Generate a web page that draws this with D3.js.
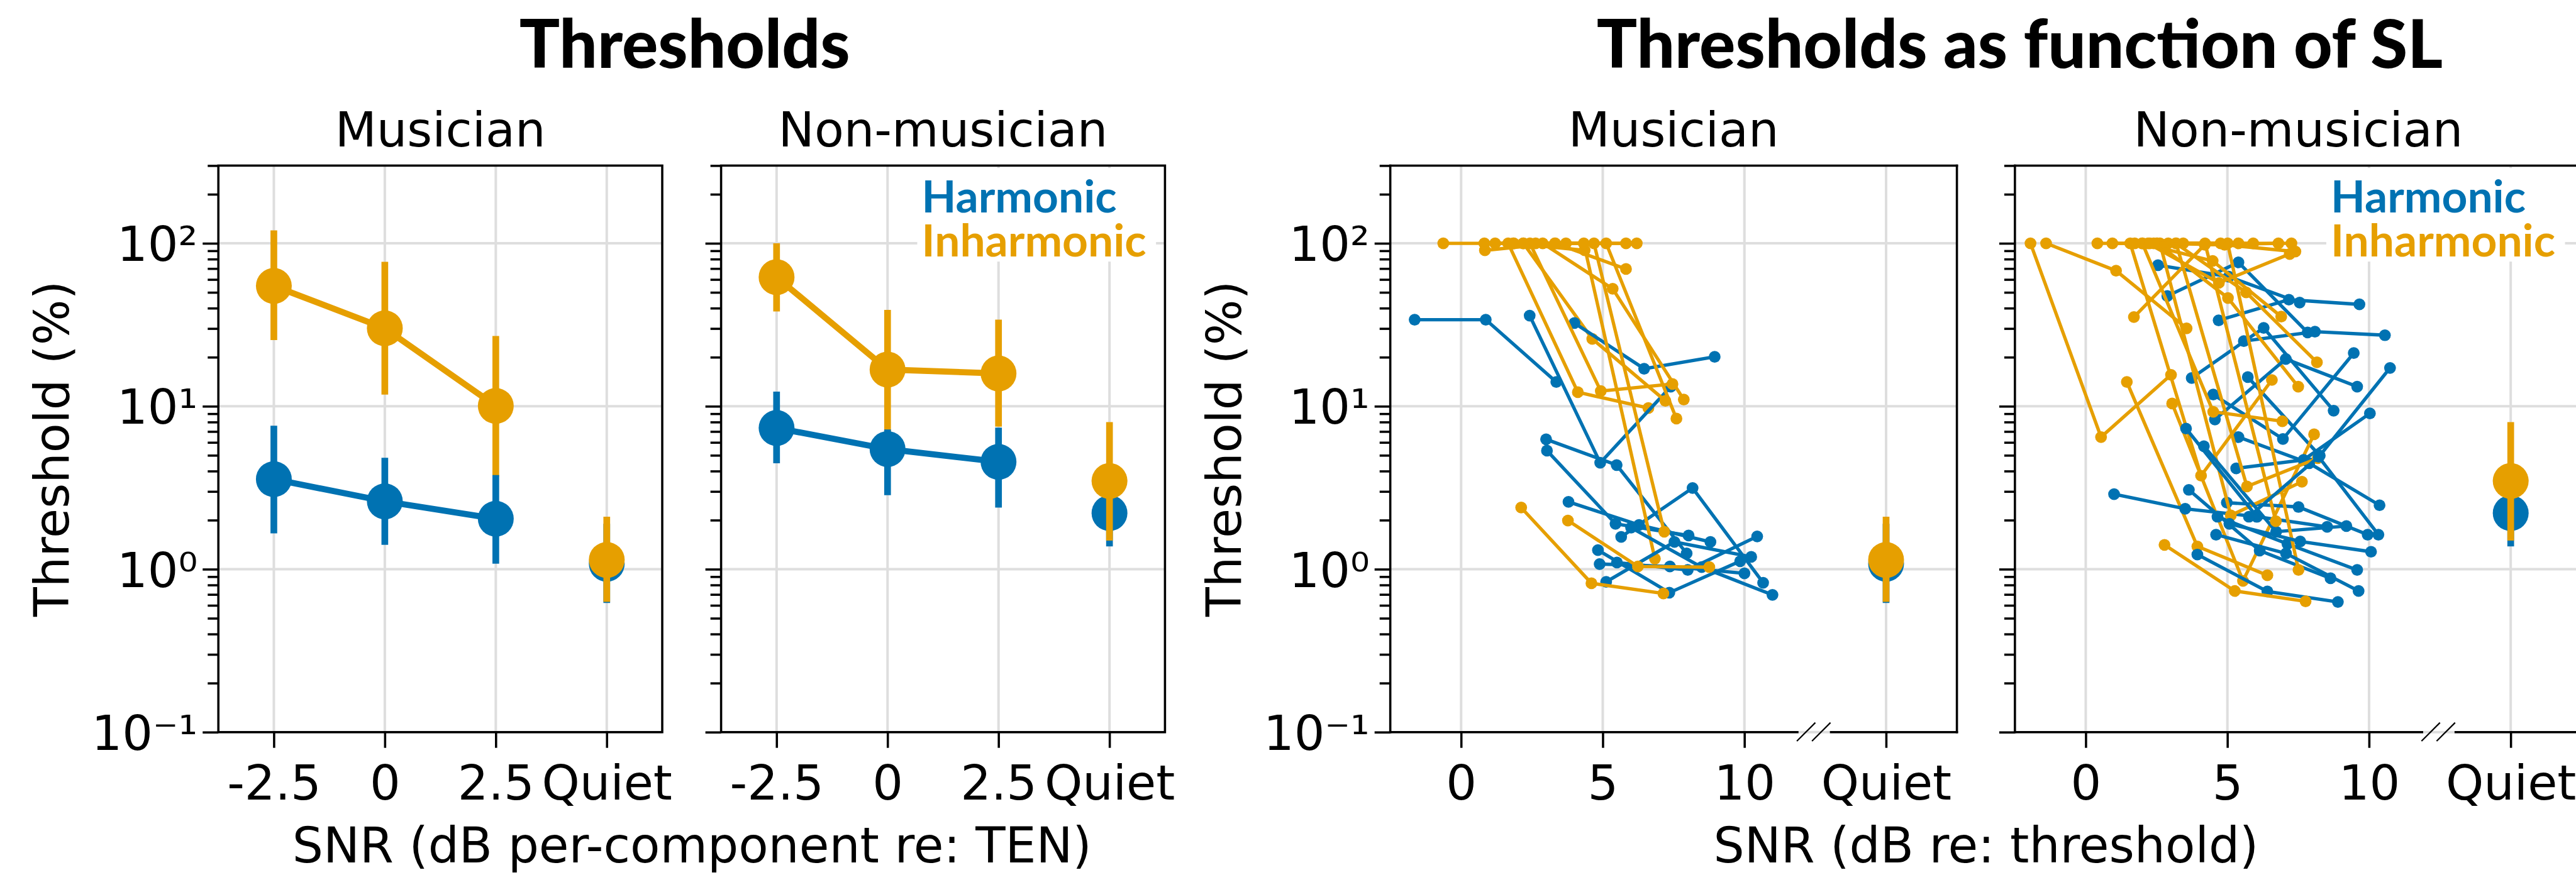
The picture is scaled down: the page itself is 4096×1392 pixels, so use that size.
<!DOCTYPE html>
<html><head><meta charset="utf-8">
<script src="https://cdn.jsdelivr.net/npm/d3@7"></script>
<style>html,body{margin:0;padding:0;background:#fff;overflow:hidden}</style>
</head><body>
<script>
// ---------------- data ----------------
const snrCategories = ["-2.5", "0", "2.5", "Quiet"];
const yTickValues = [0.1, 1, 10, 100];
const yTickLabels = ["10\u207B\u00B9", "10\u2070", "10\u00B9", "10\u00B2"];
const slTickValues = [0, 5, 10, 15];
const slTickLabels = ["0", "5", "10", "Quiet"];
const seriesNames = ["Harmonic", "Inharmonic"];
const groupNames = ["Musician", "Non-musician"];

// group means and error-bar limits, per SNR category (-2.5, 0, 2.5, Quiet)
const musHarmMean = [3.57, 2.61, 2.04, 1.08];
const musHarmLow  = [1.66, 1.41, 1.08, 0.62];
const musHarmHigh = [7.6, 4.83, 3.78, 1.9];
const musInhMean  = [54.8, 30.1, 10.05, 1.14];
const musInhLow   = [25.5, 11.8, 3.7, 0.63];
const musInhHigh  = [120, 77, 27, 2.1];
const nonHarmMean = [7.36, 5.46, 4.56, 2.21];
const nonHarmLow  = [4.47, 2.85, 2.39, 1.38];
const nonHarmHigh = [12.3, 7.2, 7.4, 3.6];
const nonInhMean  = [62, 16.8, 15.9, 3.48];
const nonInhLow   = [38.2, 6.95, 7.5, 1.5];
const nonInhHigh  = [100, 39, 34, 8.0];

// individual subjects: [SNR re threshold (dB), threshold (%)]
const musHarmSubjects = [
  [[-1.64, 34], [0.87, 34], [3.36, 14.1]],
  [[2.42, 36], [4.91, 4.5], [7.40, 13.2]],
  [[4.0, 32.4], [6.46, 17], [8.95, 20.1]],
  [[3.0, 6.27], [5.49, 4.36], [7.96, 1.25]],
  [[3.03, 5.34], [5.45, 1.9], [8.03, 1.61]],
  [[3.79, 2.59], [6.28, 1.87], [8.80, 1.47]],
  [[5.65, 1.58], [8.17, 3.15], [10.66, 0.826]],
  [[4.83, 1.31], [7.35, 0.718], [9.85, 1.12]],
  [[4.89, 1.076], [7.37, 1.04], [10.0, 0.943]],
  [[5.12, 0.837], [7.53, 1.47], [10.24, 1.19]],
  [[5.5, 1.1], [8.0, 0.99], [10.45, 1.59]],
  [[6.0, 1.8], [8.49, 1.03], [10.99, 0.696]]
];
const musInhSubjects = [
  [[1.66, 100], [4.12, 12.2], [6.61, 9.75]],
  [[2.2, 100], [4.63, 25.9], [7.21, 10.8]],
  [[2.43, 100], [4.93, 12.4], [7.46, 13.7]],
  [[2.88, 100], [5.35, 52.6], [7.86, 11.0]],
  [[0.84, 90.6], [3.32, 100], [5.82, 69.6]],
  [[-0.63, 100], [1.86, 100], [4.36, 90.6]],
  [[1.20, 100], [3.70, 100], [6.20, 100]],
  [[0.82, 100], [3.31, 100], [5.82, 100]],
  [[1.84, 100], [4.33, 100], [6.84, 1.16]],
  [[2.19, 100], [4.69, 100], [7.17, 1.70]],
  [[2.63, 100], [5.12, 100], [7.60, 8.4]],
  [[2.12, 2.39], [4.60, 0.82], [7.14, 0.71]],
  [[3.77, 1.99], [6.24, 1.04], [8.76, 1.03]]
];
const nonHarmSubjects = [
  [[2.55, 73.4], [5.05, 62.4], [7.55, 43.3]],
  [[2.88, 47.5], [5.39, 76.4], [7.83, 28.4]],
  [[4.69, 33.7], [7.17, 45.1], [9.66, 42.2]],
  [[5.58, 25.1], [8.09, 28.7], [10.56, 27.3]],
  [[3.74, 14.9], [6.28, 30.3], [8.75, 9.4]],
  [[4.50, 11.8], [6.96, 6.3], [9.46, 21.2]],
  [[5.72, 15.1], [8.26, 4.98], [10.74, 17.2]],
  [[5.39, 6.47], [7.89, 4.47], [10.37, 2.47]],
  [[4.56, 8.3], [7.06, 19.5], [9.58, 13.2]],
  [[1.0, 2.89], [3.51, 2.35], [6.04, 2.1]],
  [[3.64, 3.07], [6.14, 1.3], [8.64, 0.88]],
  [[3.94, 1.23], [6.41, 0.73], [8.90, 0.63]],
  [[4.65, 2.1], [7.12, 1.43], [9.58, 0.99]],
  [[4.98, 2.56], [7.51, 2.41], [9.95, 1.63]],
  [[3.54, 7.3], [6.04, 2.1], [8.52, 1.82]],
  [[4.17, 5.69], [6.72, 1.7], [9.20, 1.84]],
  [[5.31, 4.16], [7.69, 4.69], [10.03, 9.04]],
  [[4.60, 1.63], [7.07, 1.25], [9.63, 0.735]],
  [[5.07, 1.9], [7.57, 1.48], [10.07, 1.28]],
  [[5.76, 2.1], [8.22, 4.9], [10.33, 1.63]]
];
const nonInhSubjects = [
  [[-1.95, 100], [0.54, 6.47], [3.01, 15.6]],
  [[-1.40, 100], [1.07, 67.9], [3.56, 30.1]],
  [[0.41, 100], [2.91, 100], [5.39, 100]],
  [[0.94, 100], [3.44, 100], [5.91, 100]],
  [[1.70, 35.3], [4.20, 98], [6.80, 100]],
  [[2.20, 100], [4.70, 57.2], [7.20, 86]],
  [[2.52, 100], [5.02, 46.2], [7.50, 13.2]],
  [[1.99, 100], [4.48, 78], [6.90, 35.5]],
  [[1.45, 14.1], [3.94, 1.38], [6.41, 0.918]],
  [[3.05, 10.4], [5.55, 0.848], [8.06, 6.73]],
  [[2.0, 100], [4.50, 9.25], [6.94, 8.1]],
  [[2.78, 1.41], [5.26, 0.735], [7.76, 0.635]],
  [[1.57, 100], [4.07, 3.75], [6.57, 14.5]],
  [[2.62, 100], [5.12, 2.14], [7.63, 3.44]],
  [[3.18, 100], [5.66, 50], [8.16, 18.6]],
  [[1.73, 100], [4.21, 100], [6.71, 1.97]],
  [[2.51, 100], [5.01, 100], [7.51, 0.99]],
  [[3.19, 100], [5.69, 3.22], [8.19, 4.8]],
  [[2.26, 100], [4.76, 100], [7.26, 100]],
  [[2.40, 100], [4.90, 98], [7.40, 89]]
];

// ---------------- drawing ----------------
const BLUE = "#0072B2", ORANGE = "#E69F00";
const W = 4595, H = 1562;
const yTop = 295.6, yBot = 1307;
const FONT = "'DejaVu Sans', Verdana, sans-serif";
const TITLEFONT = "Lato, 'Open Sans', sans-serif";
const gridColor = "#dedede", gridW = 4.5;

const svg = d3.select("body").append("svg")
  .attr("width", 4096).attr("height", 1392)
  .attr("viewBox", `0 0 ${W} ${H}`);
svg.append("rect").attr("width", W).attr("height", H).attr("fill", "#fff");

const y = d3.scaleLog().domain([0.1, 300]).range([yBot, yTop]);
const minorTicks = y.ticks().filter(v => !yTickValues.some(t => Math.abs(t - v) < 1e-9));

function styleAxis(sel) {
  sel.select(".domain").remove();
  sel.selectAll(".tick line").attr("stroke", "#000").attr("stroke-width", 4);
  sel.selectAll(".tick text").attr("fill", "#000")
    .style("font-family", FONT).style("font-size", "86px");
}

function yAxes(g, x0, showLabels) {
  const major = d3.axisLeft(y).tickValues(yTickValues).tickSize(28).tickPadding(9)
    .tickFormat((d, i) => showLabels ? yTickLabels[i] : "");
  const ga = g.append("g").attr("transform", `translate(${x0},0)`).call(major);
  styleAxis(ga);
  ga.selectAll(".tick text").attr("dy", "0.36em");
  const minor = d3.axisLeft(y).tickValues(minorTicks).tickSize(19).tickFormat("");
  const gm = g.append("g").attr("transform", `translate(${x0},0)`).call(minor);
  styleAxis(gm);
}

function grid(g, x, xVals, x0, x1) {
  g.selectAll(null).data(xVals).join("line")
    .attr("x1", d => x(d)).attr("x2", d => x(d)).attr("y1", yTop).attr("y2", yBot)
    .attr("stroke", gridColor).attr("stroke-width", gridW);
  g.selectAll(null).data(yTickValues).join("line")
    .attr("x1", x0).attr("x2", x1).attr("y1", d => y(d)).attr("y2", d => y(d))
    .attr("stroke", gridColor).attr("stroke-width", gridW);
}

function errPoint(g, cx, mean, lo, hi, color, r) {
  g.append("line").attr("x1", cx).attr("x2", cx).attr("y1", y(lo)).attr("y2", y(hi))
    .attr("stroke", color).attr("stroke-width", 12);
  g.append("circle").attr("cx", cx).attr("cy", y(mean)).attr("r", r).attr("fill", color);
}

function summarySeries(g, x, mean, lo, hi, color) {
  const idx = [0, 1, 2];
  g.append("path").datum(idx)
    .attr("d", d3.line().x(i => x(i)).y(i => y(mean[i])))
    .attr("fill", "none").attr("stroke", color).attr("stroke-width", 11);
  idx.forEach(i => errPoint(g, x(i), mean[i], lo[i], hi[i], color, 32));
}

function legend(g, lx, rectX0, rectX1) {
  g.append("rect").attr("x", rectX0).attr("y", 300).attr("width", rectX1 - rectX0)
    .attr("height", 167).attr("fill", "#fff");
  const t = g.append("text").attr("x", lx).attr("y", 379)
    .style("font-family", TITLEFONT).style("font-weight", 700).style("font-size", "80px");
  [BLUE, ORANGE].forEach((c, i) => {
    t.append("tspan").attr("x", lx).attr("dy", i === 0 ? 0 : 79).attr("fill", c).text(seriesNames[i]);
  });
}

function subtitle(cx, text) {
  svg.append("text").attr("x", cx).attr("y", 262).attr("text-anchor", "middle")
    .style("font-family", FONT).style("font-size", "86px").text(text);
}

// ---- left panels (group means) ----
const leftPanels = [
  {x0: 389, x1: 1181, labels: true, hm: musHarmMean, hl: musHarmLow, hh: musHarmHigh,
   im: musInhMean, il: musInhLow, ih: musInhHigh, legend: false},
  {x0: 1286, x1: 2078, labels: false, hm: nonHarmMean, hl: nonHarmLow, hh: nonHarmHigh,
   im: nonInhMean, il: nonInhLow, ih: nonInhHigh, legend: true}
];
leftPanels.forEach((p, k) => {
  const g = svg.append("g");
  const x = d3.scaleLinear().domain([-0.5, 3.5]).range([p.x0, p.x1]);
  grid(g, x, [0, 1, 2, 3], p.x0, p.x1);
  if (p.legend) legend(g, 1644, 1636, 2062);
  summarySeries(g, x, p.im, p.il, p.ih, ORANGE);
  summarySeries(g, x, p.hm, p.hl, p.hh, BLUE);
  errPoint(g, x(3), p.hm[3], p.hl[3], p.hh[3], BLUE, 32);
  errPoint(g, x(3), p.im[3], p.il[3], p.ih[3], ORANGE, 32);
  g.append("rect").attr("x", p.x0).attr("y", yTop).attr("width", p.x1 - p.x0)
    .attr("height", yBot - yTop).attr("fill", "none").attr("stroke", "#000").attr("stroke-width", 4);
  yAxes(g, p.x0, p.labels);
  const xa = d3.axisBottom(x).tickValues([0, 1, 2, 3]).tickSize(28).tickPadding(31)
    .tickFormat((d, i) => snrCategories[i]);
  const gx = g.append("g").attr("transform", `translate(0,${yBot})`).call(xa);
  styleAxis(gx);
  subtitle((p.x0 + p.x1) / 2, groupNames[k]);
});

// ---- right panels (individual subjects vs SL) ----
const rightPanels = [
  {x0: 2480, labels: true, harm: musHarmSubjects, inh: musInhSubjects,
   hm: musHarmMean, hl: musHarmLow, hh: musHarmHigh, im: musInhMean, il: musInhLow, ih: musInhHigh, legend: false},
  {x0: 3594.5, labels: false, harm: nonHarmSubjects, inh: nonInhSubjects,
   hm: nonHarmMean, hl: nonHarmLow, hh: nonHarmHigh, im: nonInhMean, il: nonInhLow, ih: nonInhHigh, legend: true}
];
rightPanels.forEach((p, k) => {
  const g = svg.append("g");
  const x = d3.scaleLinear().domain([-2.5, 17.5]).range([p.x0, p.x0 + 1011]);
  const x1 = x(17.5);
  grid(g, x, slTickValues, p.x0, x1);
  if (p.legend) legend(g, 4158, 4150, 4576);
  const line = d3.line().x(d => x(d[0])).y(d => y(d[1]));
  const n = Math.max(p.harm.length, p.inh.length);
  const drawSubj = (s, c) => {
    g.append("path").datum(s).attr("d", line).attr("fill", "none")
      .attr("stroke", c).attr("stroke-width", 6);
    g.selectAll(null).data(s).join("circle")
      .attr("cx", d => x(d[0])).attr("cy", d => y(d[1])).attr("r", 10.5).attr("fill", c);
  };
  for (let i = 0; i < n; i++) {
    if (p.harm[i]) drawSubj(p.harm[i], BLUE);
    if (p.inh[i]) drawSubj(p.inh[i], ORANGE);
  }
  errPoint(g, x(15), p.hm[3], p.hl[3], p.hh[3], BLUE, 32);
  errPoint(g, x(15), p.im[3], p.il[3], p.ih[3], ORANGE, 32);
  // spines with a broken bottom axis
  const sp = (a, b, c, d) => g.append("line").attr("x1", a).attr("y1", b).attr("x2", c).attr("y2", d)
    .attr("stroke", "#000").attr("stroke-width", 4).attr("stroke-linecap", "square");
  sp(p.x0, yTop, x1, yTop);
  sp(p.x0, yTop, p.x0, yBot);
  sp(x1, yTop, x1, yBot);
  const bx = x(11.87);
  sp(p.x0, yBot, bx, yBot);
  sp(bx + 60, yBot, x1, yBot);
  [0, 27].forEach(o => g.append("line").attr("x1", bx - 1 + o).attr("y1", yBot + 16)
    .attr("x2", bx + 32 + o).attr("y2", yBot - 17).attr("stroke", "#000").attr("stroke-width", 2.5));
  yAxes(g, p.x0, p.labels);
  const xa = d3.axisBottom(x).tickValues(slTickValues).tickSize(28).tickPadding(31)
    .tickFormat((d, i) => slTickLabels[i]);
  const gx = g.append("g").attr("transform", `translate(0,${yBot})`).call(xa);
  styleAxis(gx);
  subtitle((p.x0 + x1) / 2, groupNames[k]);
});

// ---- axis labels and titles ----
[122, 2213].forEach(xx => {
  svg.append("text").attr("transform", `translate(${xx},801) rotate(-90)`)
    .attr("text-anchor", "middle").style("font-family", FONT).style("font-size", "86px")
    .text("Threshold (%)");
});
svg.append("text").attr("x", 1234).attr("y", 1539).attr("text-anchor", "middle")
  .style("font-family", FONT).style("font-size", "87px").text("SNR (dB per-component re: TEN)");
svg.append("text").attr("x", 3543).attr("y", 1539).attr("text-anchor", "middle")
  .style("font-family", FONT).style("font-size", "87px").text("SNR (dB re: threshold)");
svg.append("text").attr("x", 1221).attr("y", 121).attr("text-anchor", "middle")
  .style("font-family", TITLEFONT).style("font-weight", 900).style("font-size", "120px").text("Thresholds");
svg.append("text").attr("x", 3603).attr("y", 121).attr("text-anchor", "middle")
  .style("font-family", TITLEFONT).style("font-weight", 900).style("font-size", "120px").text("Thresholds as function of SL");
</script>
</body></html>
